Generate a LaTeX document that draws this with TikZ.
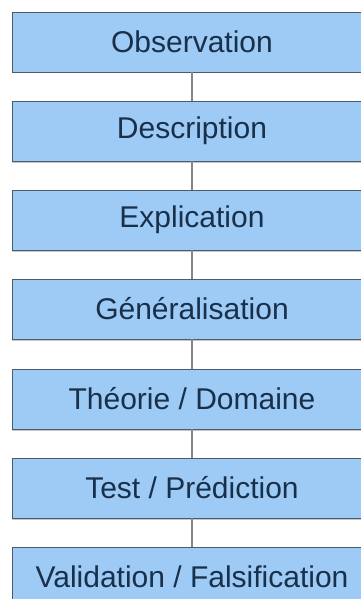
\documentclass[tikz,border=0pt]{standalone}
\usepackage{fontspec}
\setmainfont{Liberation Sans}
\usepackage{tkz-graph}
\usetikzlibrary{shadows}

\definecolor{stepfill}{HTML}{9DCBF6}
\definecolor{stepline}{HTML}{4E5C68}
\definecolor{steptext}{HTML}{19304A}
\definecolor{linkgray}{HTML}{858585}

\begin{document}
\begin{tikzpicture}[x=1pt,y=-1pt]

\GraphInit[vstyle=Normal]
\tikzset{VertexStyle/.style={rectangle, draw=stepline, line width=0.9pt, fill=stepfill, text=steptext,
  minimum width=360pt, minimum height=60pt, inner sep=0pt, font=\fontsize{30}{35}\selectfont,
  drop shadow={shadow xshift=0pt, shadow yshift=-1.5pt, opacity=0.45}}}
\tikzset{EdgeStyle/.style={draw=linkgray, line width=1.5pt}}

\useasboundingbox (0,0) rectangle (361,599);

\Vertex[x=192, y=42, L=Observation]{obs};
\Vertex[x=192, y=131, L=Description]{desc};
\Vertex[x=192, y=220, L=Explication]{expl};
\Vertex[x=192, y=309, L=Généralisation]{gen};
\Vertex[x=192, y=399, L=Théorie / Domaine]{theo};
\Vertex[x=192, y=488, L=Test / Prédiction]{test};
\Vertex[x=192, y=577, L=Validation / Falsification]{valid};

\Edge[style ={-}](obs)(desc)
\Edge[style ={-}](desc)(expl)
\Edge[style ={-}](expl)(gen)
\Edge[style ={-}](gen)(theo)
\Edge[style ={-}](theo)(test)
\Edge[style ={-}](test)(valid)

\end{tikzpicture}
\end{document}
